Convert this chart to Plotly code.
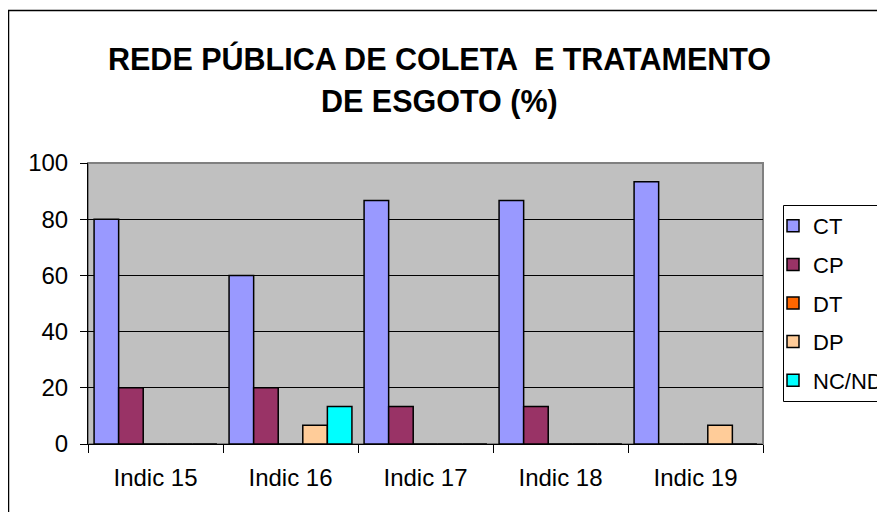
import plotly.graph_objects as go

categories = ["Indic 15", "Indic 16", "Indic 17", "Indic 18", "Indic 19"]
series_names = ["CT", "CP", "DT", "DP", "NC/ND"]
ct = [80.0, 60.0, 86.67, 86.67, 93.33]
cp = [20.0, 20.0, 13.33, 13.33, 0.0]
dt = [0.0, 0.0, 0.0, 0.0, 0.0]
dp = [0.0, 6.67, 0.0, 0.0, 6.67]
nc_nd = [0.0, 13.33, 0.0, 0.0, 0.0]
colors = ["#9999FF", "#993366", "#FF6600", "#FFCC99", "#00FFFF"]
y_ticks = [0, 20, 40, 60, 80, 100]
title_lines = ["REDE PÚBLICA DE COLETA  E TRATAMENTO", "DE ESGOTO (%)"]

FONT = "Arial, 'Liberation Sans', sans-serif"

fig = go.Figure()
for i, (name, vals) in enumerate(zip(series_names, [ct, cp, dt, dp, nc_nd])):
    fig.add_trace(go.Bar(
        x=categories, y=vals, name=name,
        marker=dict(color=colors[i], line=dict(color="black", width=1.5)),
        legendgroup=name,
    ))

# page body has an 8px margin: figure origin sits at screen (8, 8)
OFF = 8
W, H = 885 - OFF, 512 - OFF
L = 88 - OFF
T = 163 - OFF
R = W - (763 - OFF)
B = H - (444 - OFF)
pw, ph = W - L - R, H - T - B

def px_x(p):  # screen pixel -> paper
    return (p - OFF - L) / pw

def px_y(p):
    return (H - B - (p - OFF)) / ph

fig.update_layout(
    width=W, height=H,
    margin=dict(l=L, r=R, t=T, b=B, pad=0, autoexpand=False),
    paper_bgcolor="white",
    plot_bgcolor="#C0C0C0",
    barmode="group",
    bargap=0.09,
    bargroupgap=0,
    font=dict(family=FONT, size=24, color="black"),
    showlegend=True,
    legend=dict(
        x=px_x(773), xanchor="left",
        y=px_y(205), yanchor="top",
        bgcolor="rgba(0,0,0,0)", borderwidth=0,
        font=dict(family=FONT, size=22, color="black"),
        traceorder="grouped",
        tracegroupgap=7,
        itemwidth=30,
    ),
    xaxis=dict(
        showline=True, linecolor="black", linewidth=1,
        ticks="outside", ticklen=8, tickcolor="black", tickwidth=1,
        tickson="boundaries",
        showgrid=False,
        tickfont=dict(family=FONT, size=24, color="black"),
        ticklabelstandoff=12,
    ),
    yaxis=dict(
        range=[0, 100], tickvals=y_ticks,
        showline=True, linecolor="black", linewidth=1,
        ticks="outside", ticklen=7, tickcolor="black", tickwidth=1,
        showgrid=True, gridcolor="black", gridwidth=1,
        zeroline=False,
        tickfont=dict(family=FONT, size=24, color="black"),
        ticklabelstandoff=7,
    ),
)

for line, yc in zip(title_lines, [58, 102]):
    fig.add_annotation(
        text="<b>" + line + "</b>", showarrow=False,
        xref="paper", yref="paper", x=px_x(439), y=px_y(yc),
        xanchor="center", yanchor="middle",
        font=dict(family=FONT, size=30.5, color="black"),
    )

# plot area border (gray)
fig.add_shape(type="rect", xref="paper", yref="paper", x0=0, x1=1, y0=0, y1=1,
              line=dict(color="#808080", width=2), fillcolor="rgba(0,0,0,0)", layer="below")
# legend frame
fig.add_shape(type="rect", xref="paper", yref="paper",
              x0=px_x(783.5), x1=px_x(900), y0=px_y(401.5), y1=px_y(205.5),
              line=dict(color="black", width=1), fillcolor="white", layer="above")
# chart outer border
fig.add_shape(type="rect", xref="paper", yref="paper",
              x0=px_x(8.5), x1=px_x(900), y0=px_y(530), y1=px_y(10.5),
              line=dict(color="black", width=1.5), fillcolor="rgba(0,0,0,0)")

fig.write_html("out.html")
